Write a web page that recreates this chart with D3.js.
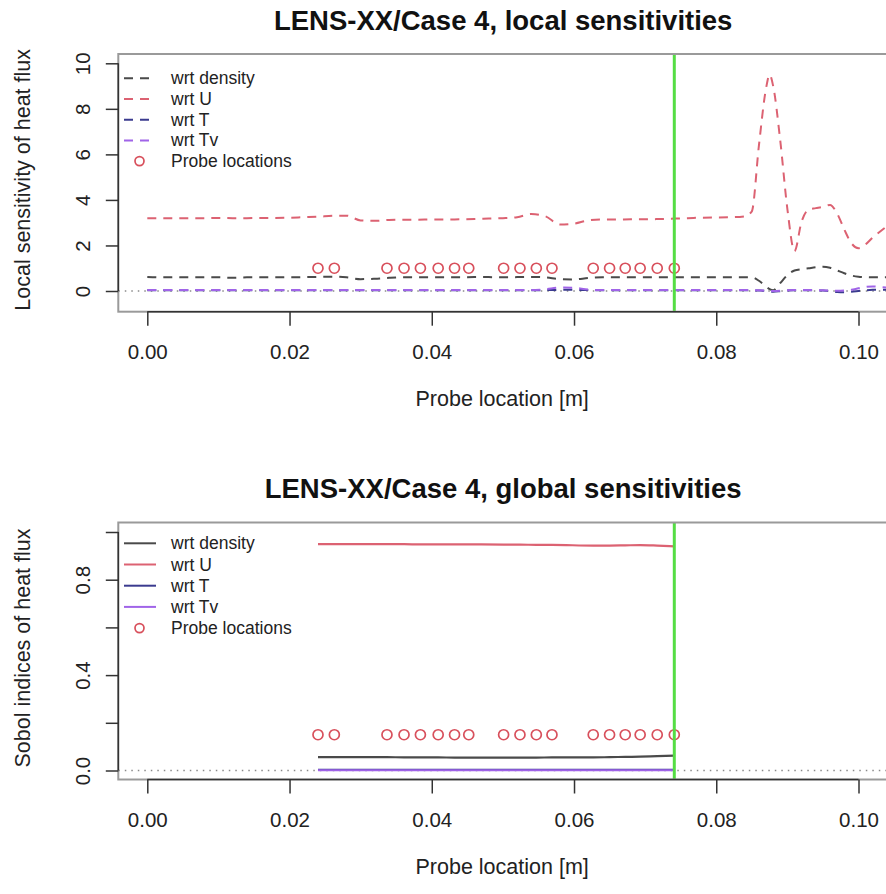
<!DOCTYPE html>
<html>
<head>
<meta charset="utf-8">
<script src="https://cdn.jsdelivr.net/npm/d3@7"></script>
<style>
  html, body { margin: 0; padding: 0; background: #fff; }
  svg { display: block; font-family: "Liberation Sans", Arial, Helvetica, sans-serif; }
</style>
</head>
<body>
<svg id="chart" width="886" height="894"></svg>
<script>
// ---------------- data ----------------
const xTicks = [0, 0.02, 0.04, 0.06, 0.08, 0.10];
const xTickLabels = ["0.00", "0.02", "0.04", "0.06", "0.08", "0.10"];
const yTicksLocal = [0, 2, 4, 6, 8, 10];
const yTicksGlobal = [0, 0.2, 0.4, 0.6, 0.8, 1.0];
const yTickLabelsGlobal = ["0.0", "", "0.4", "", "0.8", ""];

const seriesNames = ["wrt density", "wrt U", "wrt T", "wrt Tv"];
const probeLegend = "Probe locations";

const xLocal = [0,0.002,0.004,0.006,0.008,0.010,0.012,0.014,0.016,0.018,
  0.020,0.022,0.024,0.026,0.028,0.030,0.032,0.034,0.036,0.038,
  0.040,0.042,0.044,0.046,0.048,0.050,0.052,0.054,0.056,0.058,
  0.060,0.062,0.064,0.066,0.068,0.070,0.072,0.074,0.076,0.078,
  0.080,0.082,0.084,
  0.085,0.086,0.087,0.0875,0.088,0.089,0.090,0.091,0.092,0.093,0.094,
  0.095,0.096,0.097,0.098,0.099,0.100,0.101,0.102,0.103,0.104];

const localU = [3.20,3.20,3.19,3.20,3.20,3.21,3.20,3.20,3.21,3.21,
  3.22,3.24,3.26,3.30,3.31,3.10,3.08,3.12,3.13,3.13,
  3.14,3.14,3.15,3.16,3.18,3.20,3.24,3.38,3.28,2.92,
  2.96,3.10,3.14,3.14,3.15,3.15,3.16,3.18,3.20,3.22,
  3.23,3.24,3.28,
  3.50,6.40,8.90,9.50,9.00,6.60,3.60,1.75,3.05,3.58,3.64,
  3.70,3.78,3.40,2.70,2.10,1.88,2.05,2.35,2.60,2.85];

const localDensity = [0.62,0.60,0.61,0.60,0.60,0.60,0.58,0.60,0.60,0.60,
  0.60,0.61,0.62,0.63,0.60,0.52,0.54,0.58,0.60,0.60,
  0.60,0.60,0.60,0.61,0.61,0.60,0.61,0.62,0.60,0.52,
  0.51,0.57,0.60,0.60,0.60,0.60,0.60,0.60,0.60,0.60,
  0.60,0.60,0.60,
  0.60,0.45,0.20,0.08,0.03,0.35,0.70,0.90,0.96,1.00,1.04,
  1.07,1.02,0.90,0.78,0.68,0.63,0.61,0.60,0.60,0.60];

const localT = [0.03,0.03,0.03,0.03,0.03,0.03,0.03,0.03,0.03,0.03,
  0.03,0.03,0.03,0.03,0.03,0.03,0.03,0.03,0.03,0.03,
  0.03,0.03,0.03,0.03,0.03,0.03,0.03,0.03,0.04,0.05,
  0.05,0.04,0.03,0.03,0.03,0.03,0.03,0.03,0.03,0.03,
  0.03,0.03,0.03,
  0.03,0.02,0.00,-0.03,-0.03,-0.01,0.02,0.03,0.03,0.03,0.03,
  0.02,0.00,-0.04,-0.05,-0.03,0.00,0.03,0.05,0.05,0.05];

const localTv = [0.04,0.04,0.04,0.04,0.04,0.04,0.04,0.04,0.04,0.04,
  0.04,0.04,0.04,0.04,0.04,0.04,0.04,0.04,0.04,0.04,
  0.04,0.04,0.04,0.04,0.04,0.04,0.04,0.04,0.08,0.15,
  0.14,0.06,0.04,0.04,0.04,0.04,0.04,0.04,0.04,0.04,
  0.04,0.04,0.04,
  0.04,0.03,0.02,0.00,0.00,0.01,0.03,0.04,0.04,0.04,0.04,
  0.03,0.02,0.01,0.02,0.05,0.12,0.18,0.20,0.18,0.15];

const probeX = [0.0240,0.0263,0.0337,0.0361,0.0384,0.0409,0.0432,0.0452,0.0501,
  0.0524,0.0547,0.0569,0.0627,0.0650,0.0672,0.0693,0.0717,0.0741];
const probeMarkLocal = 1.0;
const probeMarkGlobal = 0.15;
const lastProbe = 0.0741;

const globalU = [0.949,0.949,0.949,0.949,0.948,0.948,0.948,0.948,0.947,
  0.947,0.946,0.946,0.943,0.943,0.944,0.945,0.943,0.940];
const globalDensity = [0.056,0.056,0.056,0.055,0.055,0.055,0.054,0.054,0.054,
  0.054,0.054,0.055,0.055,0.056,0.057,0.058,0.060,0.062];
const globalT = [0.003,0.003,0.003,0.003,0.003,0.003,0.003,0.003,0.003,
  0.003,0.003,0.003,0.003,0.003,0.003,0.003,0.003,0.003];
const globalTv = [0.001,0.001,0.001,0.001,0.001,0.001,0.001,0.001,0.001,
  0.001,0.001,0.001,0.001,0.001,0.001,0.001,0.001,0.001];

// ---------------- styles ----------------
const colors = ["#4a4a4a", "#dc6272", "#3b3b8f", "#a064e8"];
const probeColor = "#d8505c";
const greenColor = "#55dd44";
const FONT_AXIS = 20.5;
const FONT_XLAB = 21.5;
const FONT_TITLE = 27.5;
const FONT_LEGEND = 17.5;

const svg = d3.select("#chart");

const x = d3.scaleLinear().domain([0, 0.10]).range([147.3, 858.5]);

function panel(cfg) {
  const g = svg.append("g");
  const y = cfg.y;
  const box = cfg.box; // {left, right, top, bottom}
  const clipId = "clip" + cfg.id;
  svg.append("clipPath").attr("id", clipId)
    .append("rect").attr("x", box.left).attr("y", box.top)
    .attr("width", box.right - box.left).attr("height", box.bottom - box.top);

  // title
  g.append("text").attr("x", (box.left + box.right) / 2).attr("y", cfg.titleY)
    .attr("text-anchor", "middle").attr("font-weight", "bold")
    .attr("font-size", FONT_TITLE).attr("fill", "#111").text(cfg.title);

  const plot = g.append("g").attr("clip-path", `url(#${clipId})`);

  // zero reference line
  plot.append("line").attr("x1", box.left).attr("x2", box.right)
    .attr("y1", y(0)).attr("y2", y(0))
    .attr("stroke", "#8a8a8a").attr("stroke-width", 1.5).attr("stroke-dasharray", "1.5,5");

  const line = d3.line().x(d => x(d[0])).y(d => y(d[1])).curve(d3.curveMonotoneX);
  cfg.series.forEach((s, i) => {
    plot.append("path").datum(cfg.xs.map((xv, k) => [xv, s[k]]))
      .attr("d", line).attr("fill", "none")
      .attr("stroke", colors[i]).attr("stroke-width", cfg.dashed ? 2 : 2.2)
      .attr("stroke-dasharray", cfg.dashed ? "9,7" : null);
  });

  // probes
  plot.selectAll("circle.probe").data(probeX).enter().append("circle")
    .attr("cx", d => x(d)).attr("cy", y(cfg.probeY)).attr("r", 5)
    .attr("fill", "none").attr("stroke", probeColor).attr("stroke-width", 1.7);

  // green vertical
  plot.append("line").attr("x1", x(lastProbe)).attr("x2", x(lastProbe))
    .attr("y1", box.top).attr("y2", box.bottom)
    .attr("stroke", greenColor).attr("stroke-width", 3);

  // box
  g.append("rect").attr("x", box.left).attr("y", box.top)
    .attr("width", box.right - box.left).attr("height", box.bottom - box.top)
    .attr("fill", "none").attr("stroke", "#9a9a9a").attr("stroke-width", 2);

  // x axis
  const xAxis = d3.axisBottom(x).tickValues(xTicks).tickSize(14)
    .tickFormat((d, i) => xTickLabels[i]).tickPadding(19);
  const xa = g.append("g").attr("transform", `translate(0,${box.bottom})`).call(xAxis);
  xa.select(".domain").attr("stroke", "#333").attr("stroke-width", 1.5)
    .attr("d", `M${x(xTicks[0])},0H${x(xTicks[xTicks.length - 1])}`);
  xa.selectAll(".tick line").attr("stroke", "#333").attr("stroke-width", 1.5);
  xa.selectAll(".tick text").attr("font-size", FONT_AXIS).attr("fill", "#222")
    .attr("font-family", "Liberation Sans, Arial, sans-serif");

  // y axis
  const yAxis = d3.axisLeft(y).tickValues(cfg.yTicks).tickSize(12.5)
    .tickFormat((d, i) => cfg.yTickLabels[i]).tickPadding(0);
  const ya = g.append("g").attr("transform", `translate(${box.left},0)`).call(yAxis);
  ya.select(".domain").attr("stroke", "#333").attr("stroke-width", 1.5)
    .attr("d", `M0,${y(cfg.yTicks[0])}V${y(cfg.yTicks[cfg.yTicks.length - 1])}`);
  ya.selectAll(".tick line").attr("stroke", "#333").attr("stroke-width", 1.5);
  ya.selectAll(".tick text").attr("font-size", FONT_AXIS).attr("fill", "#222")
    .attr("font-family", "Liberation Sans, Arial, sans-serif")
    .attr("text-anchor", "middle").attr("dy", null)
    .attr("dominant-baseline", "central")
    .attr("x", 0).attr("transform", `translate(${82.5 - box.left},0) rotate(-90)`);

  // axis titles
  g.append("text").attr("x", (box.left + box.right) / 2 - 1).attr("y", cfg.xLabelY)
    .attr("text-anchor", "middle").attr("font-size", FONT_XLAB).attr("fill", "#222")
    .text("Probe location [m]");
  g.append("text")
    .attr("transform", `translate(22.5,${(box.top + box.bottom) / 2 - 3}) rotate(-90)`)
    .attr("text-anchor", "middle").attr("dominant-baseline", "central")
    .attr("font-size", FONT_XLAB).attr("fill", "#222").text(cfg.yLabel);

  // legend
  const lg = g.append("g");
  seriesNames.forEach((name, i) => {
    const yy = cfg.legendY0 + i * cfg.legendStep;
    lg.append("line").attr("x1", 124).attr("x2", 156).attr("y1", yy).attr("y2", yy)
      .attr("stroke", colors[i]).attr("stroke-width", 2)
      .attr("stroke-dasharray", cfg.dashed ? "9,7" : null);
    lg.append("text").attr("x", 171).attr("y", yy).attr("dominant-baseline", "central")
      .attr("font-size", FONT_LEGEND).attr("fill", "#222").text(name);
  });
  const yp = cfg.legendY0 + 4 * cfg.legendStep;
  lg.append("circle").attr("cx", 139.5).attr("cy", yp).attr("r", 4.5)
    .attr("fill", "none").attr("stroke", probeColor).attr("stroke-width", 1.7);
  lg.append("text").attr("x", 171).attr("y", yp).attr("dominant-baseline", "central")
    .attr("font-size", FONT_LEGEND).attr("fill", "#222").text(probeLegend);
}

panel({
  id: "top",
  title: "LENS-XX/Case 4, local sensitivities",
  titleY: 30,
  box: { left: 118.3, right: 888, top: 54, bottom: 311.7 },
  y: d3.scaleLinear().domain([0, 10]).range([291, 63.3]),
  yTicks: yTicksLocal,
  yTickLabels: yTicksLocal.map(String),
  yLabel: "Local sensitivity of heat flux",
  xs: xLocal,
  series: [localDensity, localU, localT, localTv],
  dashed: true,
  probeY: probeMarkLocal,
  xLabelY: 406,
  legendY0: 78.3,
  legendStep: 20.7
});

panel({
  id: "bottom",
  title: "LENS-XX/Case 4, global sensitivities",
  titleY: 498,
  box: { left: 118.3, right: 888, top: 522.5, bottom: 779.5 },
  y: d3.scaleLinear().domain([0, 1]).range([770.5, 532]),
  yTicks: yTicksGlobal,
  yTickLabels: yTickLabelsGlobal,
  yLabel: "Sobol indices of heat flux",
  xs: probeX,
  series: [globalDensity, globalU, globalT, globalTv],
  dashed: false,
  probeY: probeMarkGlobal,
  xLabelY: 874,
  legendY0: 543.3,
  legendStep: 21.2
});
</script>
</body>
</html>
